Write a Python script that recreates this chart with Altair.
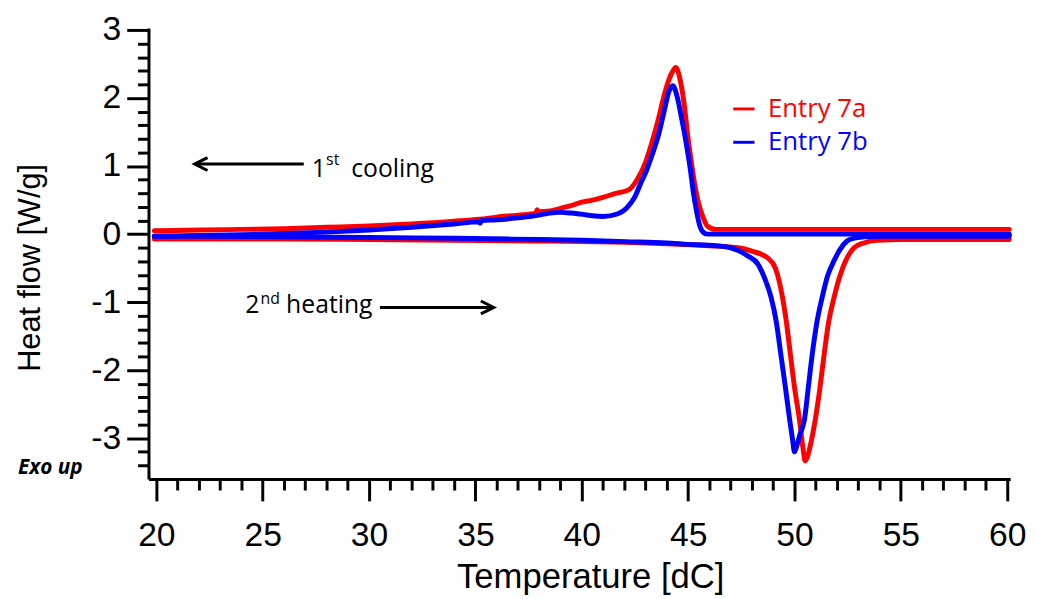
import altair as alt
import pandas as pd

# ---------------- data ----------------
series_names = ["Entry 7a", "Entry 7b"]
series_colors = ["#ff0000", "#0000ff"]

# Entry 7a, 1st cooling (temperature decreasing)
red_cool_T = [60.1, 55, 50, 47, 46.3, 45.9, 45.7, 45.5, 45.3, 45.15, 45.0, 44.8, 44.6, 44.42,
              44.25, 44.0, 43.8, 43.6, 43.3, 43.0, 42.6, 42.2, 41.6, 41.0, 40.5, 40.0, 39.5,
              39.0, 38.5, 37.95, 37.9, 37.85, 37.0, 36.0, 35.2, 34.0, 32.0, 30.0, 28.0, 26.0,
              24.0, 22.0, 19.9]
red_cool_H = [0.07, 0.07, 0.07, 0.07, 0.07, 0.12, 0.25, 0.44, 0.75, 1.06, 1.4, 1.94, 2.3, 2.45,
              2.38, 2.18, 1.95, 1.69, 1.35, 1.06, 0.8, 0.65, 0.6, 0.54, 0.5, 0.47, 0.42,
              0.38, 0.34, 0.33, 0.36, 0.31, 0.28, 0.25, 0.22, 0.19, 0.15, 0.12, 0.10, 0.08,
              0.07, 0.06, 0.05]
# Entry 7a, 2nd heating (temperature increasing)
red_heat_T = [19.9, 22, 26, 30, 34, 38, 40, 42, 44, 46, 47.35, 48.0, 48.74, 49.1, 49.35, 49.6,
              49.8, 50.0, 50.23, 50.4, 50.5, 50.6, 50.75, 50.98, 51.2, 51.4, 51.6, 51.86, 52.15,
              52.47, 52.8, 53.26, 53.86, 55, 60.1]
red_heat_H = [-0.07, -0.07, -0.07, -0.08, -0.09, -0.1, -0.11, -0.12, -0.14, -0.17, -0.2, -0.25,
              -0.35, -0.5, -0.79, -1.25, -1.75, -2.25, -2.72, -3.15, -3.33, -3.28, -3.1, -2.72,
              -2.25, -1.75, -1.3, -0.93, -0.6, -0.35, -0.2, -0.13, -0.09, -0.08, -0.08]

# Entry 7b, 1st cooling
blue_cool_T = [60.1, 55, 50, 47, 46.3, 45.9, 45.7, 45.55, 45.4, 45.25, 45.1, 44.9, 44.7, 44.5,
               44.28, 44.1, 43.86, 43.6, 43.3, 43.0, 42.8, 42.5, 42.1, 41.7, 41.0, 40.5, 40.05,
               39.5, 39.0, 38.5, 38.0, 37.0, 36.0, 35.3, 35.22, 35.15, 34.0, 32.0, 30.0, 28.0,
               26.0, 24.0, 22.0, 19.9]
blue_cool_H = [0.0, 0.0, 0.0, 0.0, 0.0, 0.0, 0.03, 0.12, 0.33, 0.6, 0.96, 1.35, 1.69, 2.0,
               2.18, 2.1, 1.79, 1.45, 1.16, 0.9, 0.77, 0.55, 0.38, 0.3, 0.26, 0.27, 0.29,
               0.31, 0.32, 0.31, 0.28, 0.24, 0.21, 0.2, 0.16, 0.18, 0.15, 0.1, 0.06, 0.03,
               0.01, -0.01, -0.02, -0.03]
# Entry 7b, 2nd heating
blue_heat_T = [19.9, 22, 26, 30, 34, 38, 40, 42, 44, 45, 46.3, 47.0, 47.35, 47.8, 48.28, 48.6,
               48.9, 49.15, 49.35, 49.55, 49.77, 49.9, 50.0, 50.1, 50.25, 50.47, 50.65, 50.84,
               51.05, 51.3, 51.55, 51.86, 52.15, 52.47, 52.8, 53.26, 54, 56, 60.1]
blue_heat_H = [-0.03, -0.03, -0.04, -0.05, -0.06, -0.08, -0.09, -0.11, -0.13, -0.15, -0.17,
               -0.2, -0.24, -0.32, -0.44, -0.65, -0.93, -1.3, -1.75, -2.2, -2.72, -3.0, -3.2,
               -3.12, -2.95, -2.72, -2.25, -1.75, -1.3, -0.93, -0.62, -0.39, -0.22, -0.1,
               -0.06, -0.04, -0.03, -0.03, -0.03]

# axis tick values
x_major = [20, 25, 30, 35, 40, 45, 50, 55, 60]
x_minor = [v for v in range(20, 61) if v % 5 != 0]
y_major = [-3, -2, -1, 0, 1, 2, 3]
y_minor = [round(-3.4 + 0.2 * i, 1) for i in range(33) if (i + 3) % 5 != 0]


def seg_rows(name, seg, T, H):
    return [{"series": name, "seg": name + "-" + seg, "T": t, "H": h} for t, h in zip(T, H)]


curves = pd.DataFrame(
    seg_rows(series_names[0], "cool", red_cool_T, red_cool_H)
    + seg_rows(series_names[0], "heat", red_heat_T, red_heat_H)
    + seg_rows(series_names[1], "cool", blue_cool_T, blue_cool_H)
    + seg_rows(series_names[1], "heat", blue_heat_T, blue_heat_H)
)

FONT = "Liberation Sans"
ANN_FONT = "Open Sans"
x_dom = [19.63, 60.14]
y_dom = [-3.6, 3.03]
W, H = 871, 456

xscale = alt.Scale(domain=x_dom, nice=False, zero=False)
yscale = alt.Scale(domain=y_dom, nice=False, zero=False)
cscale = alt.Scale(domain=series_names, range=series_colors)

x_axis = alt.Axis(
    values=x_major, format="d", tickSize=22, labelOverlap=False, orient="bottom",
    title="Temperature [dC]", titleFontSize=35, titleX=W / 2 + 11,
    grid=False, labelPadding=18, titlePadding=8,
)
y_axis = alt.Axis(
    values=y_major, labelExpr="'' + datum.value", tickSize=22, labelOverlap=False,
    orient="left", title="Heat flow [W/g]", titleFontSize=31, titleY=H / 2 + 14,
    grid=False, labelPadding=6, titlePadding=45,
)
x_axis_minor = alt.Axis(
    values=x_minor, tickSize=11, labels=False, domain=False, title=None, grid=False,
    orient="bottom",
)
y_axis_minor = alt.Axis(
    values=y_minor, tickSize=11, labels=False, domain=False, title=None, grid=False,
    orient="left",
)

lines = alt.Chart(curves).mark_line(strokeWidth=5, strokeJoin="round", strokeCap="round",
                                    interpolate="monotone").encode(
    x=alt.X("T:Q", scale=xscale, axis=x_axis),
    y=alt.Y("H:Q", scale=yscale, axis=y_axis),
    color=alt.Color("series:N", scale=cscale, legend=None),
    detail="seg:N",
    order=alt.Order("T:Q"),
)

# ---------------- legend (drawn by hand) ----------------
leg = pd.DataFrame({
    "series": series_names,
    "x1": [47.12, 47.12],
    "x2": [48.12, 48.12],
    "xt": [48.75, 48.75],
    "y": [1.84, 1.35],
})
leg_lines = alt.Chart(leg).mark_rule(strokeWidth=3).encode(
    x=alt.X("x1:Q", axis=None), x2="x2:Q", y=alt.Y("y:Q", axis=None),
    color=alt.Color("series:N", scale=cscale, legend=None),
)
leg_text = alt.Chart(leg).mark_text(align="left", baseline="middle", font=ANN_FONT,
                                     fontSize=26).encode(
    x=alt.X("xt:Q", axis=None), y=alt.Y("y:Q", axis=None), text="series:N",
    color=alt.Color("series:N", scale=cscale, legend=None),
)

# ---------------- annotations ----------------
ann_big = pd.DataFrame({
    "x": [27.3, 29.16, 24.18, 26.1],
    "y": [0.844, 0.844, -1.164, -1.164],
    "t": ["1", "cooling", "2", "heating"],
})
ann_sup = pd.DataFrame({
    "x": [27.98, 24.9],
    "y": [1.02, -1.03],
    "t": ["st", "nd"],
})
ann_big_text = alt.Chart(ann_big).mark_text(align="left", baseline="alphabetic", font=ANN_FONT,
                                             fontSize=25, color="black").encode(
    x=alt.X("x:Q", axis=None), y=alt.Y("y:Q", axis=None), text="t:N")
ann_sup_text = alt.Chart(ann_sup).mark_text(align="left", baseline="alphabetic", font=ANN_FONT,
                                             fontSize=16, color="black").encode(
    x=alt.X("x:Q", axis=None), y=alt.Y("y:Q", axis=None), text="t:N")

arrows = pd.DataFrame({
    "x1": [21.8, 30.51],
    "x2": [26.93, 35.86],
    "y": [1.03, -1.077],
})
# the arrow layer also carries the minor-tick axes
arrow_lines = alt.Chart(arrows).mark_rule(strokeWidth=3, color="black").encode(
    x=alt.X("x1:Q", axis=x_axis_minor), x2="x2:Q", y=alt.Y("y:Q", axis=y_axis_minor)
)
head_left = alt.Chart(arrows.iloc[[0]]).mark_point(
    shape="M 1 -0.5 L 0 0 L 1 0.5", size=676, filled=False, strokeWidth=3, color="black",
    opacity=1,
).encode(x=alt.X("x1:Q", axis=None), y=alt.Y("y:Q", axis=None))
head_right = alt.Chart(arrows.iloc[[1]]).mark_point(
    shape="M -1 -0.5 L 0 0 L -1 0.5", size=676, filled=False, strokeWidth=3, color="black",
    opacity=1,
).encode(x=alt.X("x2:Q", axis=None), y=alt.Y("y:Q", axis=None))

exo = pd.DataFrame({"x": [13.49], "y": [-3.52], "t": ["Exo up"]})
exo_text = alt.Chart(exo).mark_text(align="left", baseline="alphabetic", font=ANN_FONT,
                                     fontSize=21, fontWeight="bold", fontStyle="italic",
                                     color="black").encode(
    x=alt.X("x:Q", axis=None), y=alt.Y("y:Q", axis=None), text="t:N")

chart = alt.layer(
    lines, arrow_lines, leg_lines, leg_text, ann_big_text, ann_sup_text, head_left,
    head_right, exo_text
).resolve_axis(x="independent", y="independent").properties(
    width=W, height=H,
    padding={"left": 6, "top": 2, "right": 3, "bottom": 0},
).configure_view(stroke=None).configure_axis(
    labelFont=FONT, labelFontSize=34, labelColor="black",
    titleFont=FONT, titleFontWeight="normal", titleColor="black",
    domainColor="black", domainWidth=3, tickColor="black", tickWidth=3,
)

chart.save("out.html", embed_options={"renderer": "svg", "actions": False})
